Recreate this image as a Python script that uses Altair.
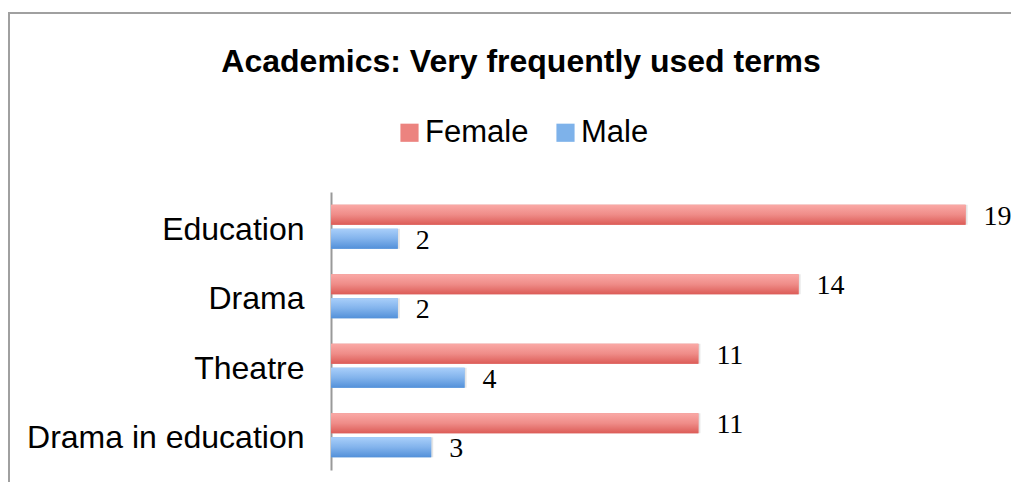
import altair as alt
import pandas as pd

terms = ["Education", "Drama", "Theatre", "Drama in education"]
female = [19, 14, 11, 11]
male = [2, 2, 4, 3]
genders = ["Female", "Male"]
title_text = "Academics: Very frequently used terms"

rows = []
for t, f, m in zip(terms, female, male):
    rows.append({"term": t, "gender": "Female", "value": f})
    rows.append({"term": t, "gender": "Male", "value": m})
df = pd.DataFrame(rows)

grad_red = alt.LinearGradient(
    gradient="linear", x1=0, x2=0, y1=0, y2=1,
    stops=[alt.GradientStop(color="#FAA9A6", offset=0),
           alt.GradientStop(color="#EF8C88", offset=0.5),
           alt.GradientStop(color="#DC5C57", offset=1)])
grad_blue = alt.LinearGradient(
    gradient="linear", x1=0, x2=0, y1=0, y2=1,
    stops=[alt.GradientStop(color="#A9CFFA", offset=0),
           alt.GradientStop(color="#82B3EC", offset=0.5),
           alt.GradientStop(color="#5290D9", offset=1)])

y_enc = alt.Y("term:N", sort=terms,
              scale=alt.Scale(paddingInner=0.367, paddingOuter=0.183),
              axis=alt.Axis(title=None, ticks=False, labelPadding=27, labelOffset=3,
                            labelFontSize=32, labelFont="Liberation Sans",
                            labelColor="black", domainColor="#999999",
                            domainWidth=2, labelLimit=500, grid=False))
yoff = alt.YOffset("gender:N", scale=alt.Scale(domain=genders, paddingInner=0.167, paddingOuter=0))
x_enc = alt.X("value:Q", scale=alt.Scale(domain=[0, 20], nice=False), axis=None)

base = alt.Chart(df).encode(y=y_enc, yOffset=yoff, x=x_enc)

shadow = base.mark_bar(color="black", opacity=0.10, xOffset=2, yOffset=3)

legend_layer = base.mark_bar().encode(
    color=alt.Color("gender:N",
                    scale=alt.Scale(domain=genders, range=["#EC837F", "#7EB2EA"]),
                    legend=alt.Legend(title=None, orient="none", legendX=63, legendY=-75,
                                      padding=0, direction="horizontal", symbolType="square",
                                      symbolSize=330, symbolStrokeWidth=0,
                                      labelFontSize=31, labelFont="Liberation Sans",
                                      labelColor="black", labelOffset=0, columnPadding=21)))

fem = base.transform_filter(alt.datum.gender == "Female").mark_bar(color=grad_red)
mal = base.transform_filter(alt.datum.gender == "Male").mark_bar(color=grad_blue)

labels = base.mark_text(align="left", baseline="middle", dx=18, dy=2,
                        font="Liberation Serif", fontSize=28, color="black").encode(text="value:Q")

title = alt.Chart(pd.DataFrame({"t": [title_text]})).mark_text(
    font="Liberation Sans", fontSize=32, fontWeight="bold", align="center",
    baseline="middle", color="black").encode(x=alt.value(190), y=alt.value(-130), text="t:N")

frame_data = pd.DataFrame({"a": [0]})
frame_left = alt.Chart(frame_data).mark_rule(color="#A0A0A0", strokeWidth=2).encode(
    x=alt.value(-322), y=alt.value(-179), y2=alt.value(290))
frame_top = alt.Chart(frame_data).mark_rule(color="#A0A0A0", strokeWidth=2).encode(
    x=alt.value(-323), x2=alt.value(680), y=alt.value(-179))

chart = alt.layer(frame_left, frame_top, shadow, legend_layer, fem, mal, labels, title).properties(
    width=668, height=278,
    padding={"left": 323, "top": 184, "right": 12, "bottom": 12},
    autosize=alt.AutoSizeParams(type="none"),
).configure_view(strokeWidth=0)

chart.save("out.html", embed_options={"renderer": "svg", "actions": False})
